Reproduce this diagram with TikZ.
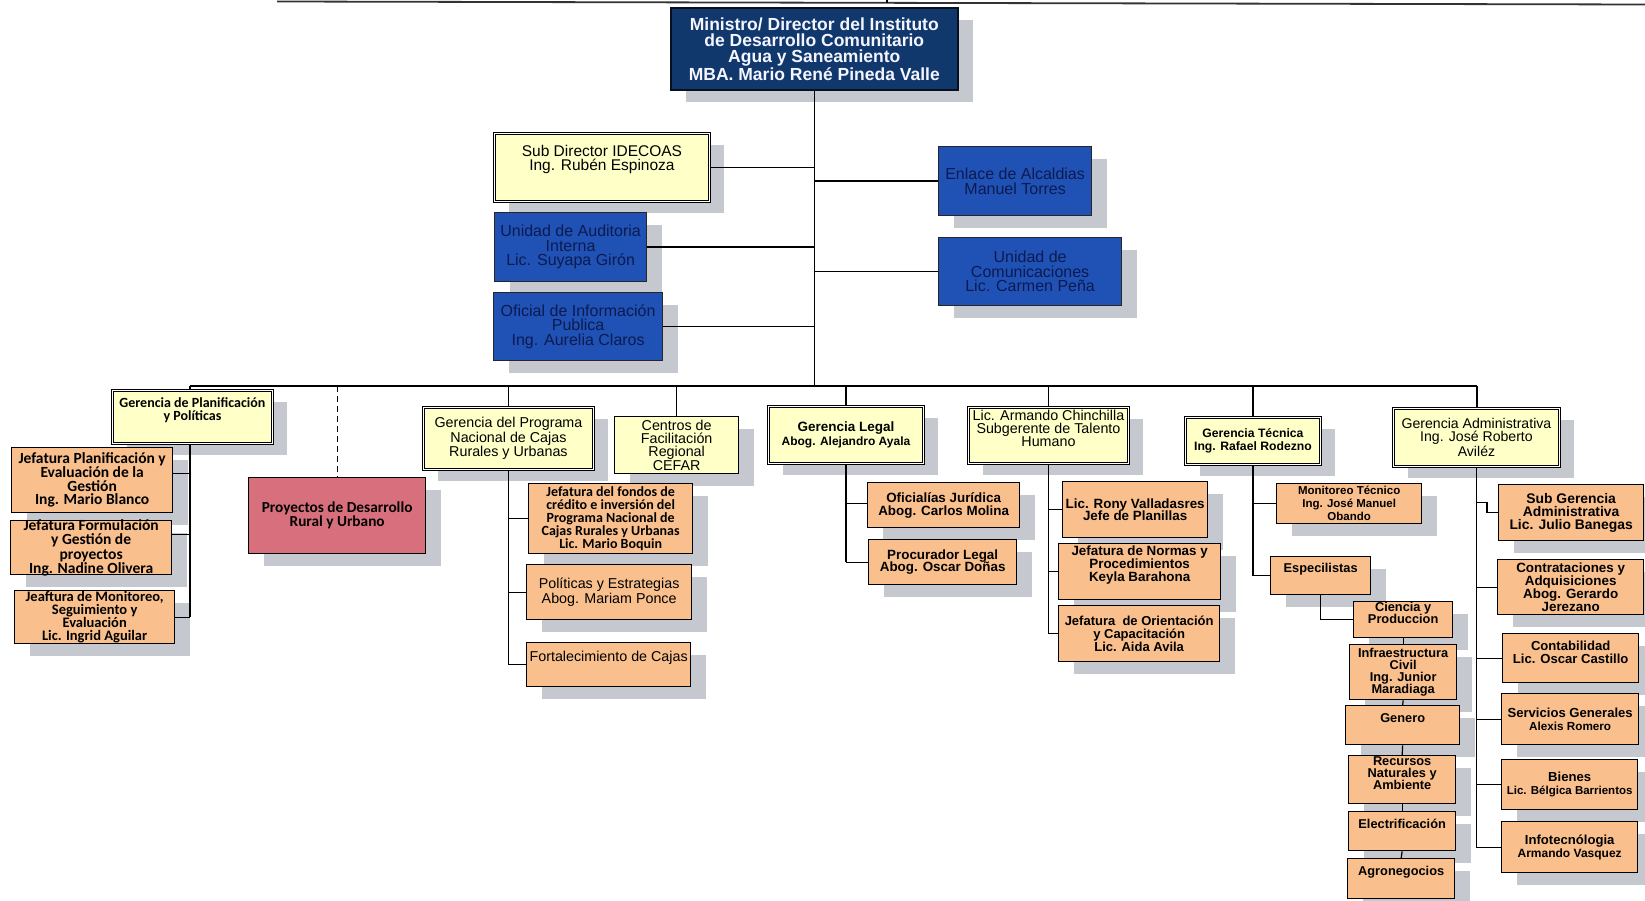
\documentclass[tikz,border=0pt]{standalone}
\usepackage{fontspec}
\setmainfont{Liberation Sans}
\newfontfamily\carl{Carlito}
\usetikzlibrary{shadows}
\definecolor{navy}{RGB}{16,56,108}
\definecolor{blu}{RGB}{32,82,182}
\definecolor{blutxt}{RGB}{12,26,80}
\definecolor{yel}{RGB}{255,255,200}
\definecolor{ora}{RGB}{249,192,142}
\definecolor{pnk}{RGB}{215,112,124}
\definecolor{shd}{RGB}{198,200,208}
\newcommand\fz[2]{\fontsize{#1}{#2}\selectfont}
\tikzset{
  bxbase/.style={rectangle, inner sep=0pt,
    drop shadow={shadow xshift=15pt, shadow yshift=-12pt, fill=shd, opacity=1}},
  navybox/.style={bxbase, fill=navy, draw=black!70!navy, line width=1.6pt},
  bluebox/.style={bxbase, fill=blu, draw=black!85, line width=1.2pt},
  ybox/.style={bxbase, fill=yel, draw=black, line width=0.9pt, double=white, double distance=1.4pt},
  yboxs/.style={bxbase, fill=yel, draw=black, line width=1.3pt},
  obox/.style={bxbase, fill=ora, draw=black, line width=1.3pt},
  pbox/.style={bxbase, fill=pnk, draw=black, line width=1.3pt},
  conn/.style={draw=black, line width=1.2pt},
  txt/.style={align=center, inner sep=0pt},
  fmin/.style={font=\bfseries\fz{17.5}{16.2}, text=white!96!blue},
  ftop/.style={font=\fz{15.5}{14.5}, text=black},
  fblue/.style={font=\fz{16}{14.5}, text=blutxt},
  fcbA/.style={font=\carl\bfseries\fz{14}{13.3}},
  fjp/.style={font=\carl\bfseries\fz{15.5}{13.8}},
  fjpB/.style={font=\carl\bfseries\fz{15.5}{14.5}},
  fjpC/.style={font=\carl\bfseries\fz{14.5}{12.8}},
  fproy/.style={font=\carl\bfseries\fz{15.3}{13}},
  fjf/.style={font=\carl\bfseries\fz{14}{12.9}},
  far/.style={font=\fz{14.3}{13.3}},
  farB/.style={font=\fz{14.3}{14.5}},
  farc/.style={font=\fz{14.3}{12.8}},
  fgl/.style={font=\bfseries\fz{13.5}{13.3}},
  fab/.style={font=\bfseries\fz{13.4}{12.8}},
  fabB/.style={font=\bfseries\fz{13}{12.8}},
  fgt/.style={font=\bfseries\fz{12.2}{13.3}},
  fmt/.style={font=\bfseries\fz{11.5}{13}},
  fch/.style={font=\bfseries\fz{12.8}{12.2}},
  fga/.style={font=\fz{14.1}{13}},
  fsg/.style={font=\bfseries\fz{13.9}{12.8}},
  fco/.style={font=\bfseries\fz{13.1}{13.3}},
}
% name, box style, x1, y1, x2, y2, text style, text dy (down), text
\newcommand\bx[9]{%
  \node[#2, anchor=north west, minimum width={#5pt-#3pt}, minimum height={#6pt-#4pt}] (#1) at (#3,#4) {};
  \node[txt, #7] (#1t) at ([yshift={-(#8)*1pt}]#1.center) {#9};}
\newcommand\lft[3]{\draw[conn] ([yshift=#3pt]#1.east) coordinate (#1c) -- (#1c -| #2);}
\newcommand\rgt[3]{\draw[conn] ([yshift=#3pt]#1.west) coordinate (#1c) -- (#1c -| #2);}
\begin{document}
\begin{tikzpicture}[x=1pt, y=-1pt]
\useasboundingbox (0,0) rectangle (1645,901);
% top line
\coordinate (tl1) at (277,1.5);
\coordinate (tl2) at (1645,4.5);
\coordinate (tk1) at (887,0);
\coordinate (tk2) at (887,3);
\draw[line width=1.8pt, black!80] (tl1) -- (tl2);
\draw[line width=1.2pt] (tk1) -- (tk2);
% top level
\bx{min}{navybox}{670}{7}{957}{89}{fmin}{0}{Ministro/ Director del Instituto\\de Desarrollo Comunitario\\Agua y Saneamiento\\MBA. Mario René Pineda Valle}
\bx{sub}{ybox}{494}{133}{709}{201}{ftop}{-8}{Sub Director IDECOAS\\Ing. Rubén Espinoza}
\bx{enl}{bluebox}{938}{146}{1091}{215}{fblue}{0}{Enlace de Alcaldias\\Manuel Torres}
\bx{aud}{bluebox}{494}{212}{646}{281}{fblue}{0}{Unidad de Auditoria\\Interna\\Lic. Suyapa Girón}
\bx{com}{bluebox}{938}{237}{1121}{305}{fblue}{0}{Unidad de\\Comunicaciones\\Lic. Carmen Peña}
\bx{ofi}{bluebox}{493}{292}{662}{360}{fblue}{0}{Oficial de Información\\Publica\\Ing. Aurelia Claros}
% second level
\bx{plan}{ybox}{112}{390}{272}{443}{fcbA}{-6.5}{Gerencia de Planificación\\y Políticas}
\bx{gpn}{ybox}{423}{407}{593}{469}{far}{0}{Gerencia del Programa\\Nacional de Cajas\\Rurales y Urbanas}
\bx{cef}{yboxs}{614}{416}{738}{473}{farc}{0}{Centros de\\Facilitación\\Regional\\CEFAR}
\bx{gl}{ybox}{768}{406}{923}{463}{fgl}{0}{Gerencia Legal\\\fz{12}{13.3}Abog. Alejandro Ayala}
\bx{th}{ybox}{968}{407}{1128}{463}{farc}{-7}{Lic. Armando Chinchilla\\Subgerente de Talento\\Humano}
\bx{gt}{ybox}{1185}{417}{1320}{464}{fgt}{0}{Gerencia Técnica\\Ing. Rafael Rodezno}
\bx{ga}{ybox}{1393}{408}{1559}{466}{fga}{0}{Gerencia Administrativa\\Ing. José Roberto\\Aviléz}
% third level
\bx{jp1}{obox}{11}{447}{172}{512}{fjp}{0}{Jefatura Planificación y\\Evaluación de la\\Gestión\\Ing. Mario Blanco}
\bx{proy}{pbox}{248}{477}{425}{553}{fproy}{0}{Proyectos de Desarrollo\\Rural y Urbano}
\bx{jf}{obox}{528}{483}{692}{553}{fjf}{0}{Jefatura del fondos de\\crédito e inversión del\\Programa Nacional de\\Cajas Rurales y Urbanas\\Lic. Mario Boquin}
\bx{oj}{obox}{867}{482}{1019}{527}{fab}{0}{Oficialías Jurídica\\Abog. Carlos Molina}
\bx{rv}{obox}{1062}{481}{1207}{537}{fab}{0}{Lic. Rony Valladasres\\Jefe de Planillas}
\bx{mt}{obox}{1276}{483}{1421}{523}{fmt}{0}{Monitoreo Técnico\\Ing. José Manuel\\Obando}
\bx{sg}{obox}{1498}{484}{1643}{540}{fsg}{0}{Sub Gerencia\\Administrativa\\Lic. Julio Banegas}
\bx{jp2}{obox}{10}{520}{171}{574}{fjpB}{0}{Jefatura Formulación\\y Gestión de\\proyectos\\Ing. Nadine Olivera}
\bx{pl}{obox}{868}{539}{1016}{584}{fab}{0}{Procurador Legal\\Abog. Oscar Doñas}
\bx{jn}{obox}{1058}{543}{1220}{599}{fab}{-6.5}{Jefatura de Normas y\\Procedimientos\\Keyla Barahona}
\bx{esp}{obox}{1270}{556}{1370}{594}{fch}{-6}{Especilistas}
\bx{ca}{obox}{1497}{559}{1643}{614}{fab}{0}{Contrataciones y\\Adquisiciones\\Abog. Gerardo\\Jerezano}
\bx{pe}{obox}{526}{564}{691}{619}{farB}{0}{Políticas y Estrategias\\Abog. Mariam Ponce}
\bx{jp3}{obox}{14}{590}{174}{643}{fjpC}{0}{Jeaftura de Monitoreo,\\Seguimiento y\\Evaluación\\Lic. Ingrid Aguilar}
\bx{cp}{obox}{1353}{601}{1452}{637}{fch}{-6.5}{Ciencia y\\Produccion}
\bx{jo}{obox}{1058}{605}{1219}{661}{fabB}{0}{Jefatura\ \ de Orientación\\y Capacitación\\Lic. Aida Avila}
\bx{co}{obox}{1502}{633}{1638}{682}{fco}{-6}{Contabilidad\\Lic. Oscar Castillo}
\bx{fc}{obox}{526}{642}{690}{686}{far}{-7}{Fortalecimiento de Cajas}
\bx{ic}{obox}{1349}{644}{1456}{699}{fch}{0}{Infraestructura\\Civil\\Ing. Junior\\Maradiaga}
\bx{sgn}{obox}{1501}{693}{1638}{744}{fco}{0}{Servicios Generales\\\fz{11.7}{13.3}Alexis Romero}
\bx{gen}{obox}{1345}{705}{1459}{744}{fch}{-7.5}{Genero}
\bx{rn}{obox}{1348}{755}{1455}{803}{fch}{-6.3}{Recursos\\Naturales y\\Ambiente}
\bx{bi}{obox}{1501}{759}{1637}{809}{fco}{0}{Bienes\\\fz{11.5}{13.3}Lic. Bélgica Barrientos}
\bx{el}{obox}{1348}{811}{1455}{850}{fch}{-7.5}{Electrificación}
\bx{inf}{obox}{1501}{821}{1637}{872}{fco}{0}{Infotecnólogia\\\fz{12}{13.3}Armando Vasquez}
\bx{ag}{obox}{1347}{858}{1454}{898}{fch}{-6}{Agronegocios}
% connectors: top
\coordinate (busL) at (190,386);
\coordinate (busR) at (1477,386);
\draw[conn] (min.south) -- (min.south |- busL);
\draw[conn] (sub.east) -- (sub.east -| min.south);
\draw[conn] (enl.west) -- (enl.west -| min.south);
\draw[conn] (aud.east) -- (aud.east -| min.south);
\draw[conn] (com.west) -- (com.west -| min.south);
\draw[conn] (ofi.east) -- (ofi.east -| min.south);
% bus
\draw[conn] (busL) -- (busR);
\draw[conn] (busL) -- (busL |- plan.north);
\draw[conn, dash pattern=on 6pt off 4pt] (proy.north |- busL) -- (proy.north);
\draw[conn] (gpn.north |- busL) -- (gpn.north);
\draw[conn] (cef.north |- busL) -- (cef.north);
\draw[conn] (gl.north |- busL) -- (gl.north);
\draw[conn] (th.north |- busL) -- (th.north);
\draw[conn] (gt.north |- busL) -- (gt.north);
\draw[conn] (busR) -- (busR |- ga.north);
% planificacion
\draw[conn] (busL |- plan.south) -- (busL |- jp3.east);
\lft{jp1}{busL}{6.5}
\lft{jp2}{busL}{13}
\lft{jp3}{busL}{0}
% programa nacional
\draw[conn] (gpn.south) -- (gpn.south |- fc.west);
\rgt{jf}{gpn.south}{0}
\rgt{pe}{gpn.south}{0}
\rgt{fc}{gpn.south}{0}
% legal
\draw[conn] (gl.south) -- (gl.south |- pl.west);
\rgt{oj}{gl.south}{1.5}
\rgt{pl}{gl.south}{0}
% talento humano
\draw[conn] (th.south) -- (th.south |- jo.west);
\rgt{rv}{th.south}{0}
\rgt{jn}{th.south}{0}
\rgt{jo}{th.south}{0}
% tecnica
\draw[conn] (gt.south) -- (gt.south |- esp.west);
\rgt{mt}{gt.south}{0}
\rgt{esp}{gt.south}{0}
\draw[conn] (esp.south) |- (cp.west);
\draw[conn] (cp.south) -- (ic.north);
\draw[conn] (ic.south) -- (gen.north);
\draw[conn] (gen.south) -- (rn.north);
\draw[conn] (rn.south) -- (el.north);
\draw[conn] (el.south) -- (ag.north);
% administrativa
\draw[conn] (ga.south) -- (ga.south |- inf.west);
\draw[conn] (sg.west) -- ++(-11,0) -- ++(0,-10) coordinate (sgk) -- (sgk -| ga.south);
\rgt{ca}{ga.south}{0}
\rgt{co}{ga.south}{0}
\rgt{sgn}{ga.south}{0}
\rgt{bi}{ga.south}{0}
\rgt{inf}{ga.south}{0}
\end{tikzpicture}
\end{document}
